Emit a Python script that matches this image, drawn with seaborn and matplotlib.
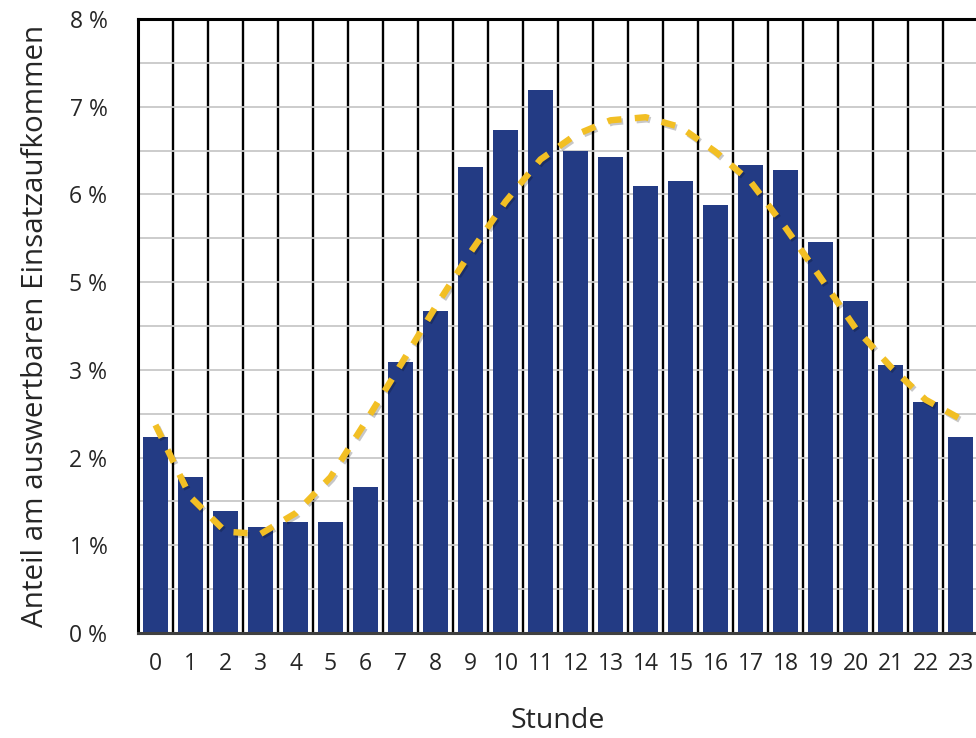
import numpy as np
import matplotlib
matplotlib.use('Agg')
import matplotlib.pyplot as plt
import matplotlib.patheffects as pe
import seaborn as sns

# Stundenwerte (Anteil in %)
hours = [str(h) for h in range(24)]
share = [2.55, 2.03, 1.59, 1.38, 1.45, 1.45, 1.90, 3.53, 4.20, 6.07, 6.55, 7.08,
         6.28, 6.20, 5.82, 5.89, 5.58, 6.10, 6.03, 5.09, 4.33, 3.49, 3.01, 2.55]
# Trendlinie (gelb gestrichelt)
trend = [2.71, 1.77, 1.32, 1.29, 1.56, 2.03, 2.75, 3.49, 4.25, 4.96, 5.62, 6.17,
         6.49, 6.68, 6.72, 6.59, 6.27, 5.88, 5.28, 4.63, 3.97, 3.47, 3.04, 2.79]
ytick_labels = ['0 %', '1 %', '2 %', '3 %', '5 %', '6 %', '7 %', '8 %']

sns.set_style('white')
plt.rcParams['font.family'] = ['Open Sans', 'DejaVu Sans']

fig = plt.figure(figsize=(9.76, 7.38), dpi=100)
ax = fig.add_axes([0.1414, 0.1423, 0.8607, 0.832])

ax.set_axisbelow(True)
sns.barplot(x=hours, y=share, color='#233b84', width=0.72, saturation=1,
            linewidth=0, ax=ax, zorder=2)

ax.plot(range(24), trend, color='#f2bf24', lw=4.6, dashes=(2.2, 2.1),
        dash_capstyle='butt', zorder=4,
        path_effects=[pe.SimpleLineShadow(offset=(1.2, -1.5), shadow_color='black', alpha=0.22),
                      pe.Normal()])

ax.set_xlim(-0.5, 23.5)
ax.set_ylim(0, 8)

# y-Ticks (Beschriftung wie im Original)
ax.set_yticks(np.linspace(0, 8, 8))
ax.set_yticklabels(ytick_labels)
ax.set_yticks(np.linspace(0, 8, 15), minor=True)
ax.set_xticks(np.arange(-0.5, 24, 1), minor=True)

ax.grid(which='both', axis='y', color='#c8c8c8', lw=1.3, zorder=0)
ax.grid(which='minor', axis='x', color='black', lw=1.7, zorder=3)
ax.grid(which='major', axis='x', visible=False)

ax.tick_params(axis='both', which='both', length=0, labelsize=16.5)
ax.tick_params(axis='y', pad=22)
ax.tick_params(axis='x', pad=14)

for side in ['left', 'top']:
    ax.spines[side].set_color('black')
    ax.spines[side].set_linewidth(2.2)
ax.spines['bottom'].set_color('#404040')
ax.spines['bottom'].set_linewidth(2.2)
ax.spines['right'].set_visible(False)

ax.set_xlabel('Stunde', fontsize=20.5, labelpad=22)
ax.set_ylabel('Anteil am auswertbaren Einsatzaufkommen', fontsize=21.3, labelpad=14)

fig.savefig('out.png', dpi=100)
